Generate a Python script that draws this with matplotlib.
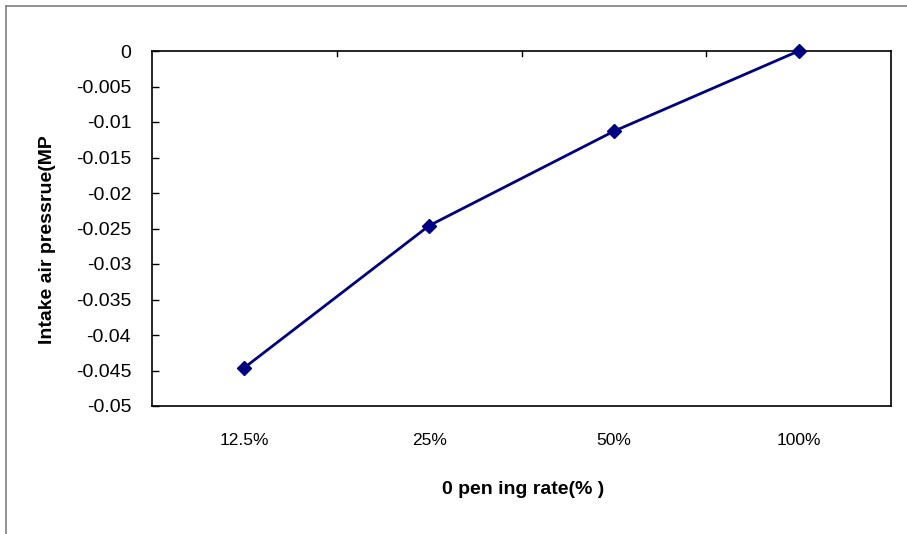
import matplotlib.pyplot as plt
from matplotlib.lines import Line2D

categories = ["12.5%", "25%", "50%", "100%"]
pressure = [-0.0446, -0.0246, -0.0113, 0.0]
yticks = [0, -0.005, -0.01, -0.015, -0.02, -0.025, -0.03, -0.035, -0.04, -0.045, -0.05]
ytick_labels = ["0", "-0.005", "-0.01", "-0.015", "-0.02", "-0.025",
                "-0.03", "-0.035", "-0.04", "-0.045", "-0.05"]

W, H = 907, 534
fig = plt.figure(figsize=(W / 100, H / 100), dpi=100)
ax = fig.add_axes([152 / W, 1 - 406 / H, (891 - 152) / W, (406 - 51) / H])

x = list(range(len(categories)))
ax.plot(x, pressure, color="#000080", lw=2, marker="D", ms=7,
        markerfacecolor="#000080", markeredgecolor="#000080", clip_on=False, zorder=3)

ax.set_xlim(-0.5, len(categories) - 0.5)
ax.set_ylim(-0.05, 0)
ax.set_yticks(yticks)
ax.set_yticklabels(ytick_labels, fontsize=14, family="Liberation Sans")
ax.tick_params(axis="y", direction="in", length=5, width=1, pad=15)

# category labels sit below the plot; separator ticks on the zero line (top)
ax.set_xticks([])
for i, c in enumerate(categories):
    ax.text(i, -0.0549, c, ha="center", va="center", fontsize=12.5,
            family="Liberation Sans")
for b in [0.5, 1.5, 2.5]:
    ax.plot([b, b], [0, -0.0007], color="black", lw=1, clip_on=False)

for s in ax.spines.values():
    s.set_linewidth(1.2)

fig.text(48 / W, 1 - 240 / H, "Intake air pressrue(MP", rotation=90,
         ha="center", va="center", fontsize=14, fontweight="bold",
         family="Liberation Sans")
fig.text(523 / W, 1 - 489 / H, "0 pen ing rate(% )", ha="center", va="center",
         fontsize=14, fontweight="bold", family="Liberation Sans")

# outer chart frame (top and left edges visible)
fig.add_artist(Line2D([6 / W, 6 / W], [0, 1 - 6 / H], color="#808080", lw=1.2))
fig.add_artist(Line2D([6 / W, 1], [1 - 6 / H, 1 - 6 / H], color="#808080", lw=1.2))

fig.savefig("out.png", dpi=100)
